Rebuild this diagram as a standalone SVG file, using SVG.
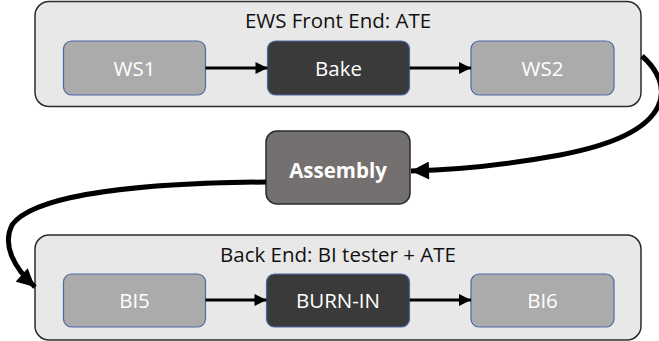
<svg xmlns="http://www.w3.org/2000/svg" width="659" height="341" viewBox="0 0 659 341">
<style>
.cont{fill:#e8e8e8;stroke:#2b2b2b;stroke-width:1.5}
.light{fill:#ababab;stroke:#4a6aa5;stroke-width:1.2}
.dark{fill:#3a3a3a;stroke:#4a6aa5;stroke-width:1.2}
.asm{fill:#747070;stroke:#2b2b2b;stroke-width:1.5}
.title{font-family:"Open Sans",sans-serif;font-size:20.5px;fill:#111;text-anchor:middle}
.lbl{font-family:"Open Sans",sans-serif;font-size:20.5px;fill:#fff;text-anchor:middle}
.bold{font-weight:bold}
.ln{fill:none;stroke:#000;stroke-width:3}
.cv{fill:none;stroke:#000;stroke-width:5}
</style>
<defs>
<marker id="ah" viewBox="0 0 10 10" refX="10" refY="5" markerWidth="4.5" markerHeight="4" orient="auto" markerUnits="strokeWidth">
<path d="M0,0 L10,5 L0,10 z" fill="#000"/>
</marker>
<marker id="ahb" viewBox="0 0 10 10" refX="10" refY="5" markerWidth="3.8" markerHeight="3.6" orient="auto" markerUnits="strokeWidth">
<path d="M0,0 L10,5 L0,10 z" fill="#000"/>
</marker>
</defs>
<g id="front-end">
<rect class="cont" x="35" y="1.5" width="606" height="105" rx="14"/>
<text class="title" x="338" y="28">EWS Front End: ATE</text>
</g>
<g id="ws1">
<rect class="light" x="63.5" y="41" width="142" height="54" rx="8"/>
<text class="lbl" x="134.5" y="75.5">WS1</text>
</g>
<g id="bake">
<rect class="dark" x="267.5" y="41" width="142" height="54" rx="8"/>
<text class="lbl" x="338.5" y="75.5">Bake</text>
</g>
<g id="ws2">
<rect class="light" x="471" y="41" width="143" height="54" rx="8"/>
<text class="lbl" x="542.5" y="75.5">WS2</text>
</g>
<g id="assembly">
<rect class="asm" x="266" y="131" width="144" height="73" rx="11"/>
<text class="lbl bold" x="338" y="178">Assembly</text>
</g>
<g id="back-end">
<rect class="cont" x="35" y="235" width="606" height="105" rx="14"/>
<text class="title" x="338" y="262">Back End: BI tester + ATE</text>
</g>
<g id="bi5">
<rect class="light" x="63.5" y="274" width="142" height="53" rx="8"/>
<text class="lbl" x="134.5" y="308">BI5</text>
</g>
<g id="burnin">
<rect class="dark" x="266.5" y="274" width="143" height="53" rx="8"/>
<text class="lbl" x="338" y="308">BURN-IN</text>
</g>
<g id="bi6">
<rect class="light" x="471" y="274" width="143" height="53" rx="8"/>
<text class="lbl" x="542.5" y="308">BI6</text>
</g>
<g id="connectors">
<line class="ln" x1="205.5" y1="68" x2="267.5" y2="68" marker-end="url(#ah)"/>
<line class="ln" x1="409.5" y1="68" x2="471" y2="68" marker-end="url(#ah)"/>
<line class="ln" x1="205.5" y1="300" x2="266.5" y2="300" marker-end="url(#ah)"/>
<line class="ln" x1="409.5" y1="300" x2="471" y2="300" marker-end="url(#ah)"/>
<path class="cv" d="M642,56 C672,82 682,132 560,155 C500,166 450,170 411,171" marker-end="url(#ahb)"/>
<path class="cv" d="M266,182 C150,183 35,193 12,225 C2,245 14,268 35,287" marker-end="url(#ahb)"/>
</g>
</svg>
